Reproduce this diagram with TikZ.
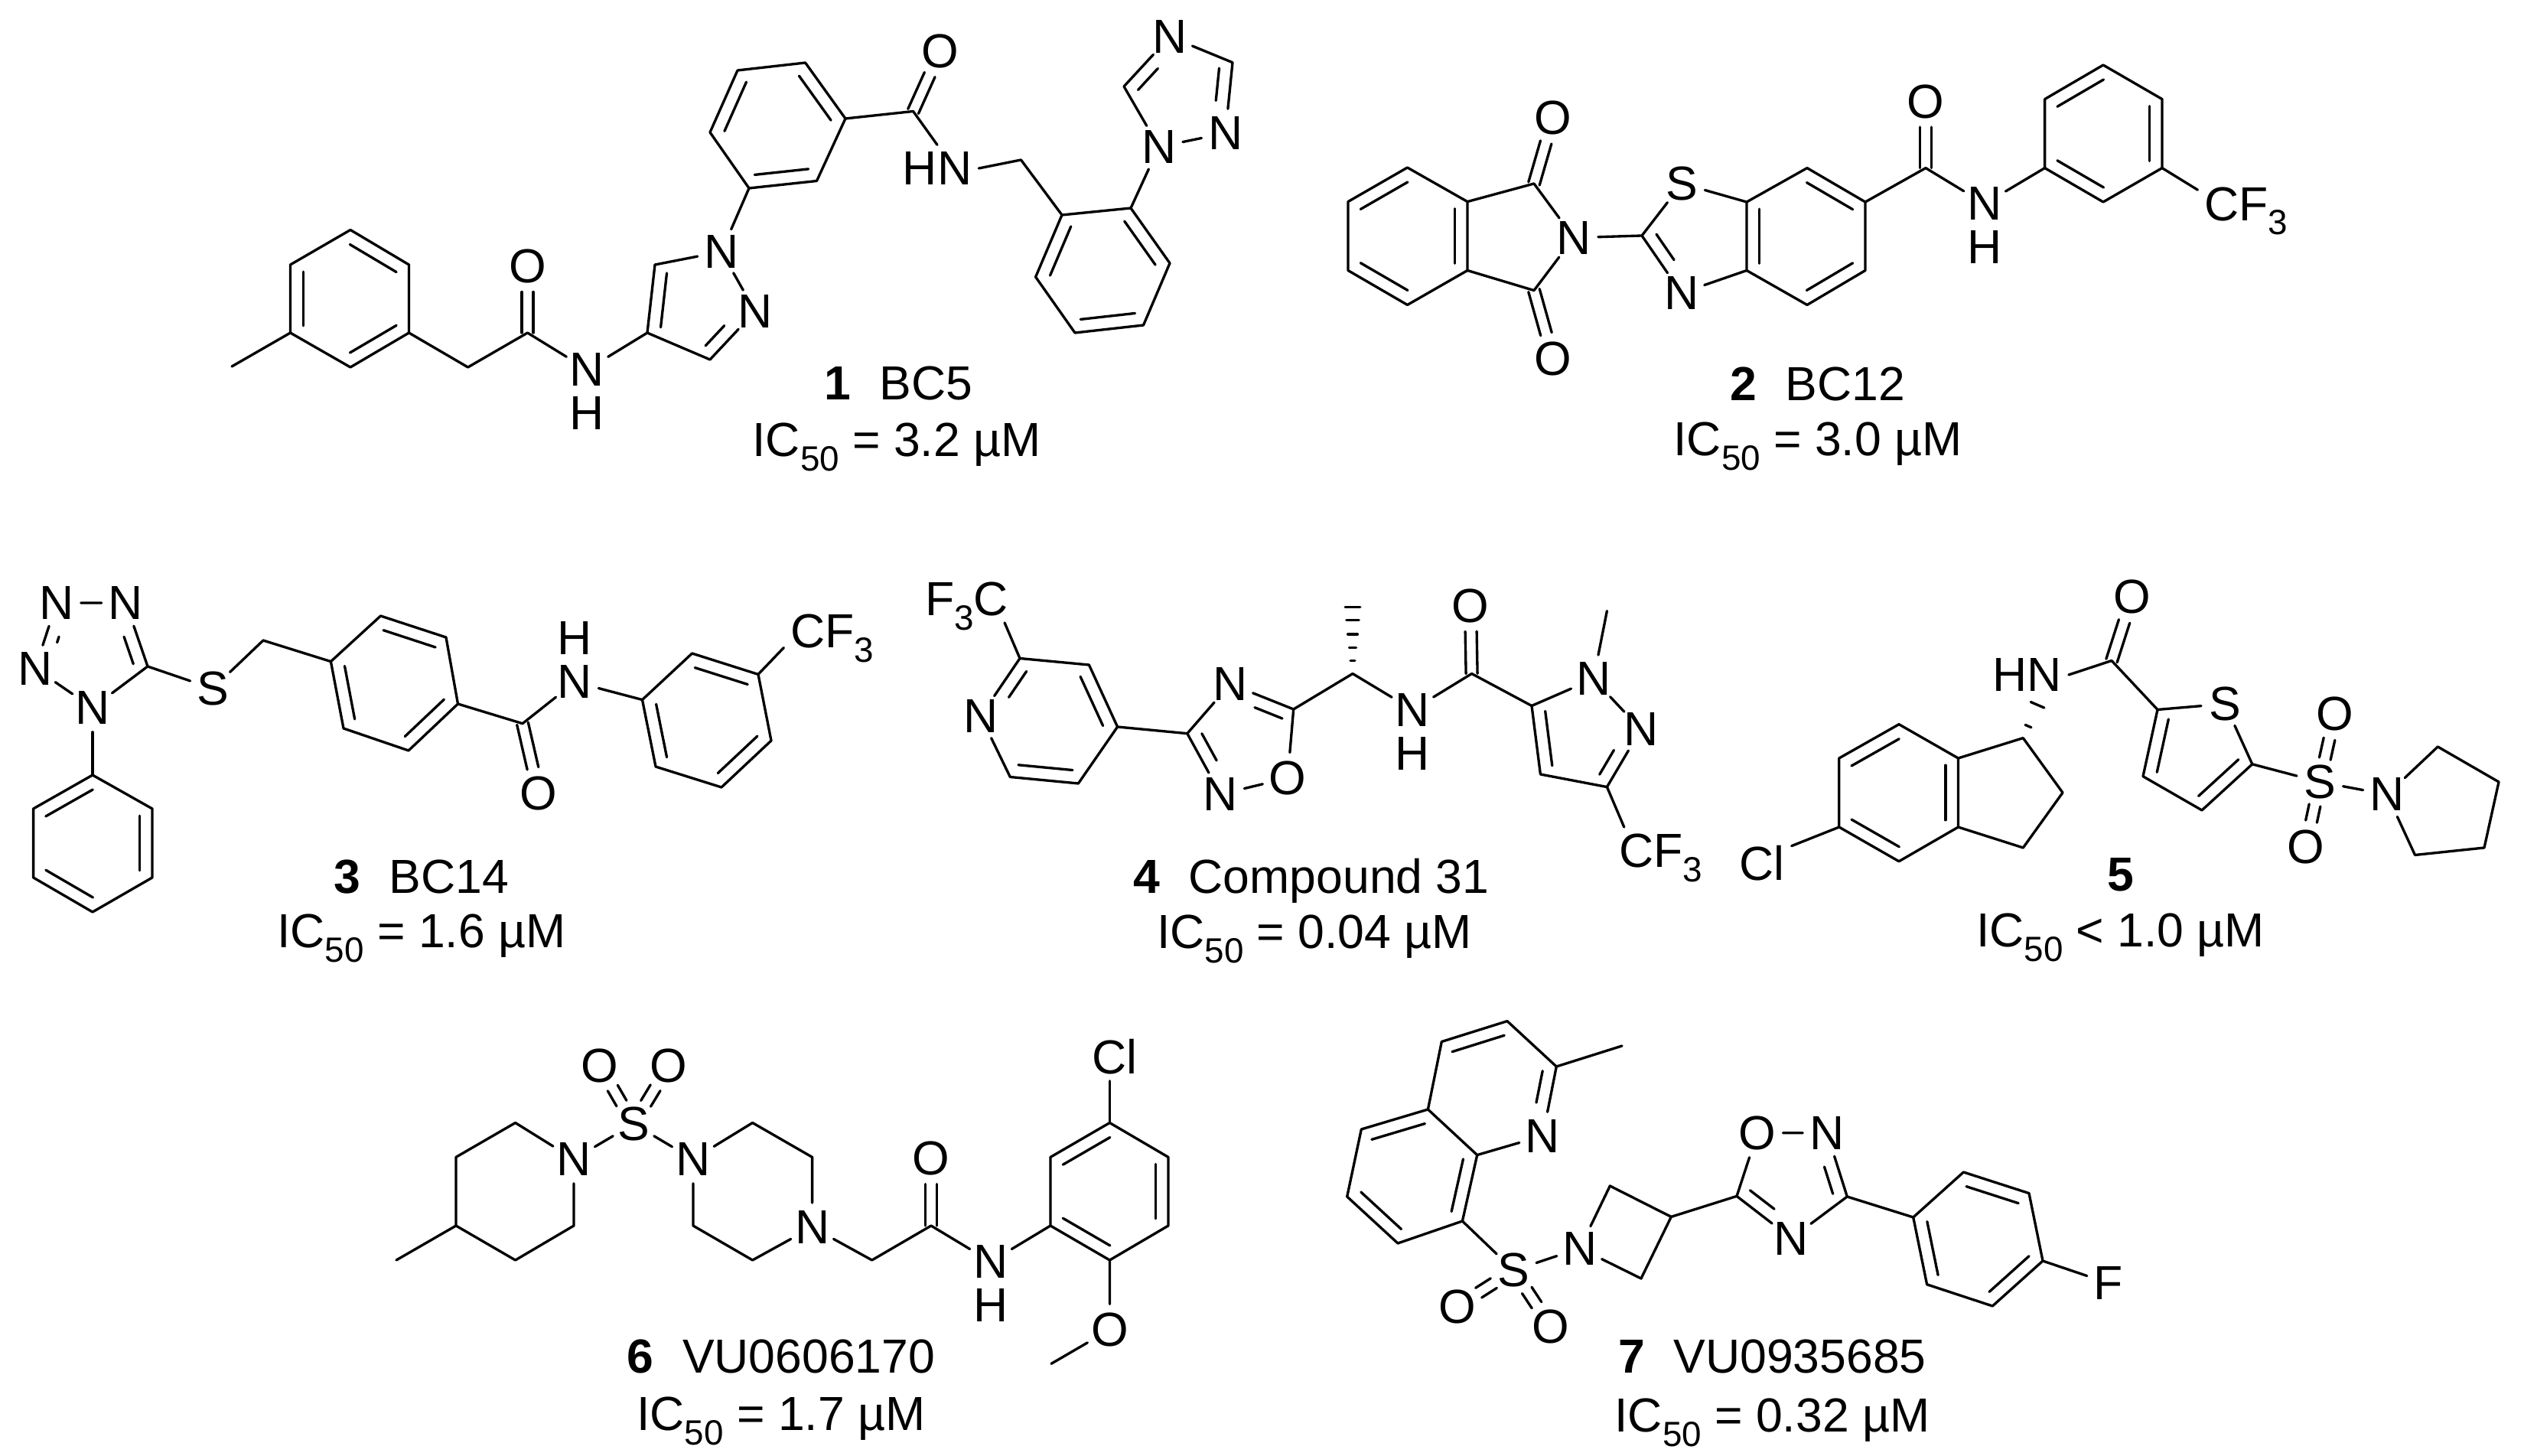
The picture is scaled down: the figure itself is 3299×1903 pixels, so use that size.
\documentclass[tikz,border=0pt]{standalone}
\usepackage{fontspec}
\setmainfont{Liberation Sans}
\usetikzlibrary{calc}
\tikzset{
    chem/.style={
        x=.24pt,y=-.24pt,
        atom/.append style={circle,inner sep=0pt,font=\fontsize{15}{18}\selectfont},
        grp/.append style={rectangle,inner sep=2pt,text depth=0pt,font=\fontsize{15}{18}\selectfont},
        caption/.append style={inner sep=0pt,text depth=0pt,font=\fontsize{15}{18}\selectfont},
        bond/.append style={draw,line width=.8pt,line join=round,line cap=round}
    }
}
\newcommand{\lowdigit}[1]{\raisebox{-.3em}{\fontsize{11}{11}\selectfont #1}}
\newcommand{\icfifty}{IC\lowdigit{50}}
% inner line of a double bond, on the right hand of a -> b
\newcommand{\dbl}[2]{
    \path (#1) -- (#2) coordinate[pos=0] (ta) coordinate[pos=1] (tb);
    \draw[bond,shorten <=2.2pt,shorten >=2.2pt] ($(ta)!4pt!-90:(tb)$) -- ($(tb)!4pt!90:(ta)$);
}
% C=O and S=O
\newcommand{\twin}[2]{
    \path (#1) -- (#2) coordinate[pos=0] (ta) coordinate[pos=1] (tb);
    \draw[bond] ($(ta)!1.8pt!90:(tb)$) -- ($(tb)!1.8pt!-90:(ta)$);
    \draw[bond] ($(ta)!1.8pt!-90:(tb)$) -- ($(tb)!1.8pt!90:(ta)$);
}
\newcommand{\hashbond}[3]{
    \foreach \t in {#3} {
        \pgfmathsetmacro{\w}{\t*2.1+.3}
        \draw[bond] ($(#1)!\t!(#2)!\w pt!90:(#2)$) -- ($(#1)!\t!(#2)!\w pt!-90:(#2)$);
    }
}

\begin{document}
\begin{tikzpicture}[chem]
    \useasboundingbox (0,0) rectangle (3299,1903);

    % compound 1
    \foreach \n/\x/\y in {a1/458/300.5,a2/534.5/346,a3/534.5/435,a4/458/480,a5/379.5/435,a6/379.5/346,
        a7/303/479,a8/611.6/480,a9/689.5/435,a10/846/435,a11/856/346,a12/928/470,
        a13/964/92,a14/1052.6/82,a15/1105/155,a16/1067.5/236.5,a17/979/246,a18/928/173,
        a19/1193.6/145.5,a20/1334.5/209,a21/1388/281,a22/1478/272,a23/1529/344,a24/1494.5/425,a25/1405/435,a26/1353.6/362,
        a27/1469/113,a28/1611/81.7}
        \coordinate (\n) at (\x,\y);
    \node[atom] (aO1) at (689.5,348) {O};
    \node[atom] (aN1) at (767.5,483) {N};
    \node[atom] (aH) at (767.5,540) {H};
    \node[atom] (aN2) at (943,329) {N};
    \node[atom] (aN3) at (987,407) {N};
    \node[atom] (aO2) at (1229,67) {O};
    \node[grp] (aHN) at (1225,220) {HN};
    \node[atom] (aN4) at (1514.7,192) {N};
    \node[atom] (aN5) at (1601.7,174) {N};
    \node[atom] (aN6) at (1529,48) {N};
    \draw[bond] (a1) -- (a2) -- (a3) -- (a4) -- (a5) -- (a6) -- (a1);
    \draw[bond] (a5) -- (a7);
    \draw[bond] (a3) -- (a8) -- (a9) -- (aN1) -- (a10) -- (a11) -- (aN2) -- (aN3) -- (a12) -- (a10);
    \draw[bond] (aN2) -- (a17);
    \draw[bond] (a13) -- (a14) -- (a15) -- (a16) -- (a17) -- (a18) -- (a13);
    \draw[bond] (a15) -- (a19) -- (aHN.north);
    \draw[bond] (aHN.east) -- (a20) -- (a21);
    \draw[bond] (a21) -- (a22) -- (a23) -- (a24) -- (a25) -- (a26) -- (a21);
    \draw[bond] (a22) -- (aN4) -- (a27) -- (aN6) -- (a28) -- (aN5) -- (aN4);
    \twin{a9}{aO1}
    \twin{a19}{aO2}
    \dbl{a1}{a2} \dbl{a3}{a4} \dbl{a5}{a6}
    \dbl{a10}{a11} \dbl{aN3}{a12}
    \dbl{a14}{a15} \dbl{a16}{a17} \dbl{a18}{a13}
    \dbl{a22}{a23} \dbl{a24}{a25} \dbl{a26}{a21}
    \dbl{a27}{aN6} \dbl{a28}{aN5}
    \node[caption] (aname) at (1174.5,501) {\textbf{1}\hspace{.6em}BC5};
    \node[caption] (avalue) at (1172,575) {\icfifty{} = 3.2 µM};

    % compound 2
    \foreach \n/\x/\y in {b1/1839.5/219,b2/1918/263.6,b3/1918/353.5,b4/1839.5/398.5,b5/1762/353.5,b6/1762/263.6,
        b7/2005/240,b8/2005/379.6,b9/2146/308,b10/2283/264,b11/2283/353.5,
        b12/2362/219.6,b13/2438/264,b14/2438/353.5,b15/2362/398.5,b16/2517/219.6,
        b17/2672.6/129.6,b18/2749/85,b19/2826/129.6,b20/2826/219.6,b21/2749/264,b22/2672.6/219.6}
        \coordinate (\n) at (\x,\y);
    \node[atom] (bN1) at (2057,310.7) {N};
    \node[atom] (bO1) at (2030,153.6) {O};
    \node[atom] (bO2) at (2030,469) {O};
    \node[atom] (bS) at (2198.4,240) {S};
    \node[atom] (bN2) at (2197.6,383) {N};
    \node[atom] (bO3) at (2517,132.5) {O};
    \node[atom] (bN3) at (2594,266.4) {N};
    \node[atom] (bH) at (2594,323.4) {H};
    \node[grp] (bCF) at (2936,266.4) {CF\lowdigit{3}};
    \draw[bond] (b1) -- (b2) -- (b3) -- (b4) -- (b5) -- (b6) -- (b1);
    \draw[bond] (b2) -- (b7) -- (bN1) -- (b8) -- (b3);
    \draw[bond] (bN1) -- (b9) -- (bS) -- (b10) -- (b11) -- (bN2) -- (b9);
    \draw[bond] (b10) -- (b12) -- (b13) -- (b14) -- (b15) -- (b11);
    \draw[bond] (b13) -- (b16) -- (bN3) -- (b22);
    \draw[bond] (b17) -- (b18) -- (b19) -- (b20) -- (b21) -- (b22) -- (b17);
    \draw[bond] (b20) -- (bCF.164);
    \twin{b7}{bO1}
    \twin{b8}{bO2}
    \twin{b16}{bO3}
    \dbl{b6}{b1} \dbl{b2}{b3} \dbl{b4}{b5}
    \dbl{bN2}{b9} \dbl{b11}{b10}
    \dbl{b12}{b13} \dbl{b14}{b15}
    \dbl{b17}{b18} \dbl{b19}{b20} \dbl{b21}{b22}
    \node[caption] (bname) at (2376,502) {\textbf{2}\hspace{.6em}BC12};
    \node[caption] (bvalue) at (2376,574) {\icfifty{} = 3.0 µM};

    % compound 3
    \foreach \n/\x/\y in {c1/193/871,c2/344/837,c3/432.4/864.6,c4/497.5/805,c5/583/833,c6/598.5/920,c7/534/981,c8/449/952,
        c9/683/945.7,c10/839.5/914.6,c11/904.6/854,c12/991/881.4,c13/1008/968,c14/943/1029,c15/857/1002,
        c16/121/1013,c17/199/1057,c18/199/1147,c19/121/1192,c20/43.6/1147,c21/43.6/1057}
        \coordinate (\n) at (\x,\y);
    \node[atom] (cN1) at (74,788) {N};
    \node[atom] (cN2) at (164.5,788) {N};
    \node[atom] (cN3) at (46,873.6) {N};
    \node[atom] (cN4) at (121,925) {N};
    \node[atom] (cS) at (278,900) {S};
    \node[atom] (cO) at (704,1037) {O};
    \node[atom] (cN5) at (751.5,891.4) {N};
    \node[atom] (cH) at (751.5,834.4) {H};
    \node[grp] (cCF) at (1088,824.6) {CF\lowdigit{3}};
    \draw[bond] (cN1) -- (cN2) -- (c1) -- (cN4) -- (cN3) -- (cN1);
    \draw[bond] (c1) -- (cS) -- (c2) -- (c3);
    \draw[bond] (c3) -- (c4) -- (c5) -- (c6) -- (c7) -- (c8) -- (c3);
    \draw[bond] (c6) -- (c9) -- (cN5) -- (c10);
    \draw[bond] (c10) -- (c11) -- (c12) -- (c13) -- (c14) -- (c15) -- (c10);
    \draw[bond] (c12) -- (cCF.199);
    \draw[bond] (cN4) -- (c16);
    \draw[bond] (c16) -- (c17) -- (c18) -- (c19) -- (c20) -- (c21) -- (c16);
    \twin{c9}{cO}
    \dbl{cN3}{cN1} \dbl{cN2}{c1}
    \dbl{c4}{c5} \dbl{c6}{c7} \dbl{c8}{c3}
    \dbl{c11}{c12} \dbl{c13}{c14} \dbl{c15}{c10}
    \dbl{c21}{c16} \dbl{c17}{c18} \dbl{c19}{c20}
    \node[caption] (cname) at (551,1145.7) {\textbf{3}\hspace{.6em}BC14};
    \node[caption] (cvalue) at (551,1217) {\icfifty{} = 1.6 µM};

    % compound 4
    \foreach \n/\x/\y in {d1/1333/860.5,d2/1423.4/869,d3/1460.6/950,d4/1409.4/1024,d5/1320.3/1015.5,
        d6/1551.8/958.7,d7/1690.7/927,d8/1768/880.5,d9/1768/791.7,d10/1923.6/880.5,
        d11/2002/922.5,d12/2100.4/1028.6,d13/2013.4/1012,d14/2100.4/798.5}
        \coordinate (\n) at (\x,\y);
    \node[grp] (dCF1) at (1263.5,783) {F\lowdigit{3}C};
    \node[atom] (dN1) at (1281.7,936) {N};
    \node[atom] (dN2) at (1608,894) {N};
    \node[atom] (dO1) at (1683,1017) {O};
    \node[atom] (dN3) at (1595.3,1038) {N};
    \node[atom] (dN4) at (1846.4,927.7) {N};
    \node[atom] (dH) at (1846.4,984.7) {H};
    \node[atom] (dO2) at (1922,791.7) {O};
    \node[atom] (dN5) at (2082.8,887.4) {N};
    \node[atom] (dN6) at (2144.6,953.5) {N};
    \node[grp] (dCF2) at (2170.5,1112) {CF\lowdigit{3}};
    \draw[bond] (dCF1.-32) -- (d1);
    \draw[bond] (d1) -- (d2) -- (d3) -- (d4) -- (d5) -- (dN1) -- (d1);
    \draw[bond] (d3) -- (d6) -- (dN2) -- (d7) -- (dO1) -- (dN3) -- (d6);
    \draw[bond] (d7) -- (d8) -- (dN4) -- (d10) -- (d11);
    \draw[bond] (d11) -- (dN5) -- (dN6) -- (d12) -- (d13) -- (d11);
    \draw[bond] (dN5) -- (d14);
    \draw[bond] (d12) -- (dCF2.147);
    \twin{d10}{dO2}
    \hashbond{d8}{d9}{.19,.38,.58,.79,.98}
    \dbl{d2}{d3} \dbl{d4}{d5} \dbl{dN1}{d1}
    \dbl{dN2}{d7} \dbl{dN3}{d6}
    \dbl{d13}{d11} \dbl{dN6}{d12}
    \node[caption] (dname) at (1714,1144.7) {\textbf{4}\hspace{.6em}Compound 31};
    \node[caption] (dvalue) at (1718,1217.7) {\icfifty{} = 0.04 µM};

    % compound 5
    \foreach \n/\x/\y in {e1/2760/863.5,e2/2820/927.5,e3/2943.8/998.8,e4/2878/1059,e5/2801/1014.7,
        e6/3186.3/976,e7/3266/1022,e8/3247/1108,e9/3156.5/1117.5,
        e10/2644.3/964.6,e11/2696/1036,e12/2644.3/1108,e13/2559.5/1081,e14/2559.5/991,
        e15/2482/946.7,e16/2403.8/991,e17/2403.8/1081,e18/2482/1125.8,e19/2664/919}
        \coordinate (\n) at (\x,\y);
    \node[atom] (eO1) at (2786.8,780) {O};
    \node[grp] (eHN) at (2649.6,882) {HN};
    \node[atom] (eS1) at (2908,920) {S};
    \node[atom] (eS2) at (3032,1022) {S};
    \node[atom] (eO2) at (3051.8,933) {O};
    \node[atom] (eO3) at (3014,1106.5) {O};
    \node[atom] (eN) at (3120,1038.5) {N};
    \node[grp] (eCl) at (2303,1128) {Cl};
    \draw[bond] (eHN.east) -- (e1) -- (e2) -- (eS1) -- (e3) -- (e4) -- (e5) -- (e2);
    \draw[bond] (e3) -- (eS2) -- (eN) -- (e6) -- (e7) -- (e8) -- (e9) -- (eN);
    \draw[bond] (e10) -- (e11) -- (e12) -- (e13) -- (e14) -- (e10);
    \draw[bond] (e14) -- (e15) -- (e16) -- (e17) -- (e18) -- (e13);
    \draw[bond] (e17) -- (eCl.30);
    \twin{e1}{eO1}
    \twin{eS2}{eO2}
    \twin{eS2}{eO3}
    \hashbond{e10}{e19}{.34,.95}
    \dbl{e3}{e4} \dbl{e5}{e2}
    \dbl{e14}{e13} \dbl{e18}{e17} \dbl{e16}{e15}
    \node[caption] (ename) at (2771.5,1143) {\textbf{5}};
    \node[caption] (evalue) at (2771.5,1216) {\icfifty{} < 1.0 µM};

    % compound 6
    \foreach \n/\x/\y in {f1/518/1647,f2/596/1602,f3/596/1512.4,f4/673.6/1467.5,f5/750/1602,f6/673.6/1647,
        f7/983.6/1467.5,f8/1061.6/1512.4,f9/983.6/1647,f10/906/1602,f11/1139.7/1647,f12/1217/1602,
        f13/1373/1602,f14/1373/1512.4,f15/1450.4/1467.5,f16/1527/1512.4,f17/1527/1602,f18/1450.4/1647,f19/1374/1782.4}
        \coordinate (\n) at (\x,\y);
    \node[atom] (fN1) at (750,1515) {N};
    \node[atom] (fS) at (828,1469) {S};
    \node[atom] (fO1) at (784,1393) {O};
    \node[atom] (fO2) at (874,1393) {O};
    \node[atom] (fN2) at (906,1515) {N};
    \node[atom] (fN3) at (1061.6,1604) {N};
    \node[atom] (fO3) at (1217,1514) {O};
    \node[atom] (fN4) at (1295,1649) {N};
    \node[atom] (fH) at (1295,1706) {H};
    \node[grp] (fCl) at (1457,1381) {Cl};
    \node[atom] (fO4) at (1450.4,1738) {O};
    \draw[bond] (f1) -- (f2) -- (f3) -- (f4) -- (fN1) -- (f5) -- (f6) -- (f2);
    \draw[bond] (fN1) -- (fS) -- (fN2) -- (f7) -- (f8) -- (fN3) -- (f9) -- (f10) -- (fN2);
    \draw[bond] (fN3) -- (f11) -- (f12) -- (fN4) -- (f13);
    \draw[bond] (f13) -- (f14) -- (f15) -- (f16) -- (f17) -- (f18) -- (f13);
    \draw[bond] (f15) -- (fCl.south -| f15);
    \draw[bond] (f18) -- (fO4) -- (f19);
    \twin{fS}{fO1}
    \twin{fS}{fO2}
    \twin{f12}{fO3}
    \dbl{f14}{f15} \dbl{f16}{f17} \dbl{f18}{f13}
    \node[caption] (fname) at (1021,1772.7) {\textbf{6}\hspace{.6em}VU0606170};
    \node[caption] (fvalue) at (1021,1848) {\icfifty{} = 1.7 µM};

    % compound 7
    \foreach \n/\x/\y in {g1/1911.4/1596,g2/1930.7/1509.6,g3/1866.4/1450,g4/1779.3/1476,g5/1760.7/1564,g6/1827/1625,
        g7/2034.3/1394,g8/1970/1334.6,g9/1884.3/1361.5,g10/2120/1367,
        g11/2104.3/1550,g12/2184.3/1590.4,g13/2145/1671,g14/2270/1563.4,g15/2414.3/1564,
        g16/2500.7/1591,g17/2566.4/1532,g18/2652/1559.6,g19/2670/1648,g20/2604.3/1707,g21/2518.6/1678.8}
        \coordinate (\n) at (\x,\y);
    \node[atom] (gN1) at (2016.4,1484.6) {N};
    \node[atom] (gS) at (1978.6,1660.4) {S};
    \node[atom] (gO1) at (1904.3,1707.7) {O};
    \node[atom] (gO2) at (2027,1733.8) {O};
    \node[atom] (gN2) at (2065,1631.5) {N};
    \node[atom] (gO3) at (2297,1480.8) {O};
    \node[atom] (gN3) at (2388,1480.8) {N};
    \node[atom] (gN4) at (2341.4,1618.5) {N};
    \node[atom] (gF) at (2755.7,1677) {F};
    \draw[bond] (g1) -- (g2) -- (g3) -- (g4) -- (g5) -- (g6) -- (g1);
    \draw[bond] (g2) -- (gN1) -- (g7) -- (g8) -- (g9) -- (g3);
    \draw[bond] (g7) -- (g10);
    \draw[bond] (g1) -- (gS) -- (gN2) -- (g11) -- (g12) -- (g13) -- (gN2);
    \draw[bond] (g12) -- (g14) -- (gO3) -- (gN3) -- (g15) -- (gN4) -- (g14);
    \draw[bond] (g15) -- (g16);
    \draw[bond] (g16) -- (g17) -- (g18) -- (g19) -- (g20) -- (g21) -- (g16);
    \draw[bond] (g19) -- (gF);
    \twin{gS}{gO1}
    \twin{gS}{gO2}
    \dbl{g4}{g3} \dbl{g2}{g1} \dbl{g6}{g5}
    \dbl{g9}{g8} \dbl{g7}{gN1}
    \dbl{gN3}{g15} \dbl{gN4}{g14}
    \dbl{g17}{g18} \dbl{g19}{g20} \dbl{g21}{g16}
    \node[caption] (gname) at (2316.4,1773) {\textbf{7}\hspace{.6em}VU0935685};
    \node[caption] (gvalue) at (2316.4,1850) {\icfifty{} = 0.32 µM};
\end{tikzpicture}
\end{document}
